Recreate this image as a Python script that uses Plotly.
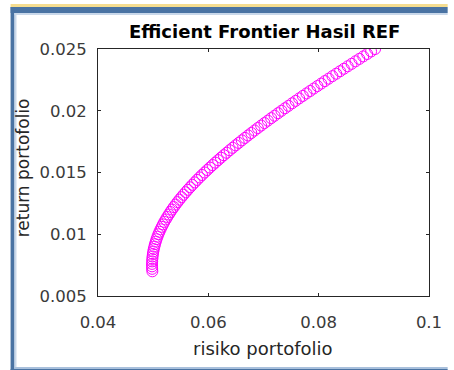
import plotly.graph_objects as go

# Data (risk = std dev, return)
portfolio_return = [
    0.0070, 0.0072, 0.0074, 0.0076, 0.0078, 0.0080, 0.0082, 0.0084, 0.0086, 0.0088,
    0.0090, 0.0092, 0.0094, 0.0096, 0.0098, 0.0100, 0.0102, 0.0104, 0.0106, 0.0108,
    0.0110, 0.0112, 0.0114, 0.0116, 0.0118, 0.0120, 0.0122, 0.0124, 0.0126, 0.0128,
    0.0130, 0.0132, 0.0134, 0.0136, 0.0138, 0.0140, 0.0142, 0.0144, 0.0146, 0.0148,
    0.0150, 0.0152, 0.0154, 0.0156, 0.0158, 0.0160, 0.0162, 0.0164, 0.0166, 0.0168,
    0.0170, 0.0172, 0.0174, 0.0176, 0.0178, 0.0180, 0.0182, 0.0184, 0.0186, 0.0188,
    0.0190, 0.0192, 0.0194, 0.0196, 0.0198, 0.0200, 0.0202, 0.0204, 0.0206, 0.0208,
    0.0210, 0.0212, 0.0214, 0.0216, 0.0218, 0.0220, 0.0222, 0.0224, 0.0226, 0.0228,
    0.0230, 0.0232, 0.0234, 0.0236, 0.0238, 0.0240, 0.0242, 0.0244, 0.0246, 0.0248,
    0.0250,
]
portfolio_risk = [
    0.04985, 0.04982, 0.04980, 0.04980, 0.04982, 0.04985, 0.04989, 0.04995, 0.05002, 0.05011,
    0.05022, 0.05033, 0.05047, 0.05061, 0.05077, 0.05095, 0.05113, 0.05134, 0.05155, 0.05178,
    0.05202, 0.05228, 0.05255, 0.05283, 0.05312, 0.05343, 0.05374, 0.05407, 0.05441, 0.05476,
    0.05513, 0.05550, 0.05589, 0.05628, 0.05669, 0.05710, 0.05753, 0.05796, 0.05841, 0.05886,
    0.05933, 0.05980, 0.06028, 0.06077, 0.06126, 0.06177, 0.06228, 0.06280, 0.06333, 0.06386,
    0.06440, 0.06495, 0.06551, 0.06607, 0.06664, 0.06721, 0.06779, 0.06838, 0.06897, 0.06957,
    0.07017, 0.07078, 0.07139, 0.07201, 0.07264, 0.07326, 0.07390, 0.07453, 0.07518, 0.07582,
    0.07647, 0.07713, 0.07779, 0.07845, 0.07911, 0.07978, 0.08046, 0.08113, 0.08181, 0.08250,
    0.08319, 0.08388, 0.08457, 0.08527, 0.08597, 0.08667, 0.08737, 0.08808, 0.08879, 0.08950,
    0.09022,
]

x_ticks = [0.04, 0.06, 0.08, 0.1]
x_tick_labels = ["0.04", "0.06", "0.08", "0.1"]
y_ticks = [0.005, 0.01, 0.015, 0.02, 0.025]
y_tick_labels = ["0.005", "0.01", "0.015", "0.02", "0.025"]

title_text = "Efficient Frontier Hasil REF"
x_label = "risiko portofolio"
y_label = "return portofolio"

W, H = 454, 370
ML, MR, MT, MB = 98, 19, 49, 74
PW, PH = W - ML - MR, H - MT - MB


def px_x(px):
    return (px - ML) / PW


def px_y(py):
    return (H - MB - py) / PH


FONT = "DejaVu Sans"
AX = "#262626"

fig = go.Figure()
fig.add_trace(go.Scatter(
    x=portfolio_risk, y=portfolio_return, mode="markers",
    marker=dict(symbol="circle-open", size=11, color="#ff00ff",
                line=dict(width=1, color="#ff00ff")),
    hoverinfo="skip", showlegend=False,
))

axis_common = dict(
    showgrid=False, zeroline=False, showline=True, linecolor=AX, linewidth=1,
    mirror="ticks", ticks="inside", ticklen=3, tickcolor=AX, tickwidth=1,
    tickfont=dict(family=FONT, size=16.5, color="#3a3a3a"),
)

fig.update_xaxes(range=[0.04, 0.1], tickvals=x_ticks, ticktext=x_tick_labels,
                 ticklabelstandoff=11, **axis_common)
fig.update_yaxes(range=[0.005, 0.025], tickvals=y_ticks, ticktext=y_tick_labels,
                 ticklabelstandoff=7, **axis_common)

shapes = [
    # yellow strip at top
    dict(type="rect", xref="paper", yref="paper", x0=px_x(9), x1=px_x(454),
         y0=px_y(7), y1=px_y(4), fillcolor="#f5dd90", line=dict(width=0), layer="below"),
    # blue top band
    dict(type="rect", xref="paper", yref="paper", x0=px_x(9), x1=px_x(454),
         y0=px_y(13), y1=px_y(7), fillcolor="#4a73a3", line=dict(width=0), layer="below"),
    # blue left band
    dict(type="rect", xref="paper", yref="paper", x0=px_x(9), x1=px_x(13),
         y0=px_y(370), y1=px_y(7), fillcolor="#4a73a3", line=dict(width=0), layer="below"),
    # light inner edges
    dict(type="rect", xref="paper", yref="paper", x0=px_x(13), x1=px_x(15),
         y0=px_y(368), y1=px_y(13), fillcolor="#c9d8ea", line=dict(width=0), layer="below"),
    dict(type="rect", xref="paper", yref="paper", x0=px_x(13), x1=px_x(454),
         y0=px_y(15), y1=px_y(13), fillcolor="#c9d8ea", line=dict(width=0), layer="below"),
    # bottom edge
    dict(type="rect", xref="paper", yref="paper", x0=px_x(13), x1=px_x(454),
         y0=px_y(369), y1=px_y(367), fillcolor="#a9c0dc", line=dict(width=0), layer="below"),
    dict(type="rect", xref="paper", yref="paper", x0=px_x(9), x1=px_x(454),
         y0=px_y(370), y1=px_y(369), fillcolor="#4a73a3", line=dict(width=0), layer="below"),
]

annotations = [
    dict(text="<b>" + title_text + "</b>", xref="paper", yref="paper",
         x=px_x(267.5), y=px_y(31.5), xanchor="center", yanchor="middle",
         showarrow=False, font=dict(family=FONT, size=18, color="#000000")),
    dict(text=x_label, xref="paper", yref="paper",
         x=px_x(266), y=px_y(348), xanchor="center", yanchor="middle",
         showarrow=False, font=dict(family=FONT, size=18, color="#262626")),
    dict(text=y_label, xref="paper", yref="paper", textangle=-90,
         x=px_x(22), y=px_y(168), xanchor="center", yanchor="middle",
         showarrow=False, font=dict(family=FONT, size=17, color="#262626")),
]

fig.update_layout(
    width=W, height=H,
    margin=dict(l=ML, r=MR, t=MT, b=MB, pad=0),
    paper_bgcolor="#ffffff", plot_bgcolor="#ffffff",
    shapes=shapes, annotations=annotations,
    showlegend=False,
)

# remove the browser's default 8px body margin so the figure fills the window
fig.write_html(
    "out.html",
    config={"displayModeBar": False},
    post_script="document.body.style.margin='0';document.body.style.overflow='hidden';",
)
